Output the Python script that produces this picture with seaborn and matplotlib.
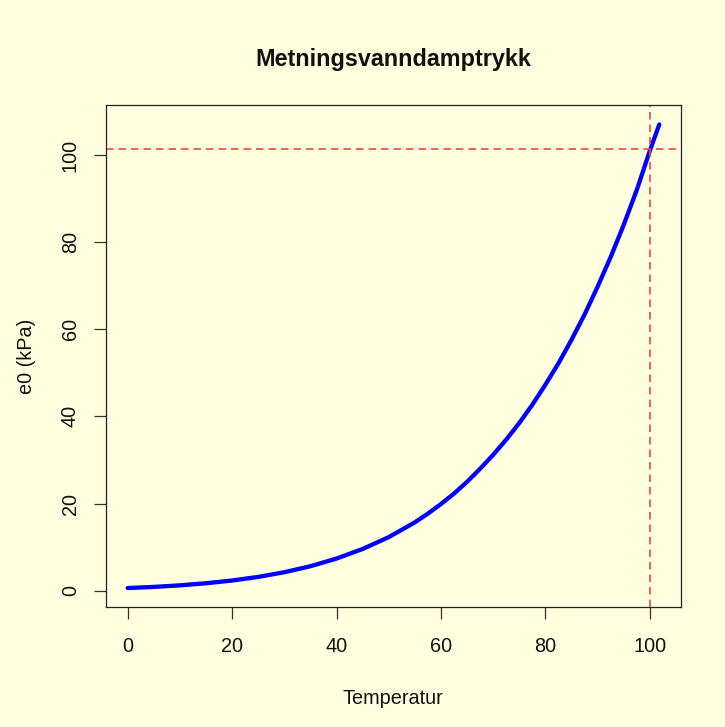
import matplotlib
matplotlib.use("Agg")
import matplotlib.pyplot as plt
import seaborn as sns
import pandas as pd

temperature = [0, 5, 10, 15, 20, 25, 30, 35, 40, 45, 50, 55, 57.5, 60, 62.5, 65, 67.5, 70,
               72.5, 75, 77.5, 80, 82.5, 85, 87.5, 90, 92.5, 95, 97.5, 100, 101.8]
pressure = [0.61, 0.87, 1.23, 1.71, 2.34, 3.17, 4.24, 5.62, 7.38, 9.58, 12.3, 15.7, 17.7, 19.9,
            22.3, 25.0, 28.0, 31.2, 34.7, 38.5, 42.7, 47.3, 52.2, 57.6, 63.4, 69.8, 76.6,
            84.0, 92.0, 101.0, 107.0]
boiling_temp = 100
atm_pressure = 101.3
x_ticks = [0, 20, 40, 60, 80, 100]
y_ticks = [0, 20, 40, 60, 80, 100]
title = "Metningsvanndamptrykk"
x_label = "Temperatur"
y_label = "e0 (kPa)"

bg = "#FFFFE0"
plt.rcParams['font.family'] = ['Liberation Sans', 'DejaVu Sans']

df = pd.DataFrame({"T": temperature, "e0": pressure})

W, H = 725, 727
fig = plt.figure(figsize=(W / 100, H / 100), dpi=100, facecolor=bg)
left, right, top, bottom = 105.7, 680.7, 105.3, 607.0
ax = fig.add_axes([left / W, 1 - bottom / H, (right - left) / W, (bottom - top) / H])
ax.set_facecolor(bg)

sns.lineplot(data=df, x="T", y="e0", ax=ax, color="#0000FF", linewidth=3.1,
             solid_capstyle="round", solid_joinstyle="round", sort=True)

ax.axhline(atm_pressure, color="#F5453A", linewidth=1.2, linestyle=(0, (4.5, 3.0)))
ax.axvline(boiling_temp, color="#F5453A", linewidth=1.2, linestyle=(0, (4.5, 3.0)))

ax.set_xlim(-4.21, 105.9)
ax.set_ylim(-3.74, 111.4)
ax.set_xticks(x_ticks)
ax.set_yticks(y_ticks)
ax.set_xticklabels([str(v) for v in x_ticks])
ax.set_yticklabels([str(v) for v in y_ticks], rotation=90, va="center")
ax.set_xlabel("")
ax.set_ylabel("")

for s in ax.spines.values():
    s.set_color("#222222")
    s.set_linewidth(0.9)

ax.tick_params(axis="both", direction="out", length=8.6, width=0.9, color="#333333",
               labelsize=14.3, labelcolor="#111111")
ax.tick_params(axis="x", pad=13)
ax.tick_params(axis="y", pad=10)

fig.text(393 / W, 1 - 66 / H, title, ha="center", va="baseline",
         fontsize=16.8, fontweight="bold", color="#111111")
fig.text(393 / W, 1 - 704 / H, x_label, ha="center", va="baseline",
         fontsize=14.3, color="#111111")
fig.text(27 / W, 1 - 356 / H, y_label, ha="center", va="center", rotation=90,
         fontsize=14.3, color="#111111")

fig.savefig("out.png", dpi=100, facecolor=bg)
